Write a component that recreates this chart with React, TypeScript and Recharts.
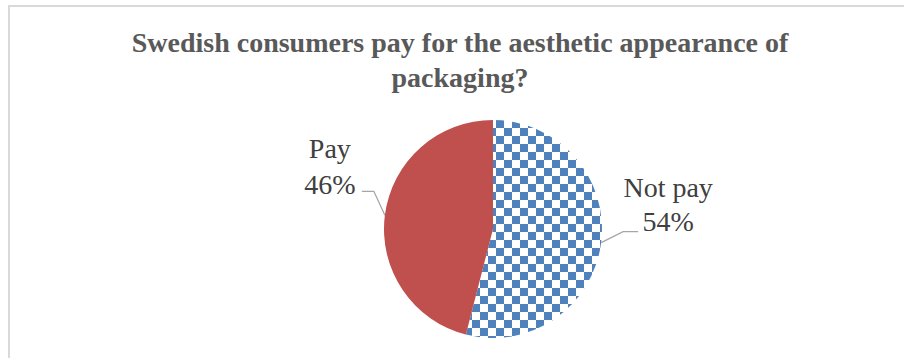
import React from 'react';
import { PieChart, Pie, Cell } from 'recharts';

// values
const categories = ['Not pay', 'Pay'];
const shares = [54, 46];
const titleLines = ['Swedish consumers pay for the aesthetic appearance of', 'packaging?'];

const data = categories.map((name, i) => ({ name, value: shares[i] }));
const fills = ['url(#checker)', '#C0504D'];

const RADIAN = Math.PI / 180;
const SERIF = "'Liberation Serif', 'Times New Roman', serif";

const renderLabel = (props: any) => {
  const { cx, cy, midAngle, outerRadius, name, value } = props;
  const ex = cx + outerRadius * Math.cos(-midAngle * RADIAN);
  const ey = cy + outerRadius * Math.sin(-midAngle * RADIAN);
  const right = ex > cx;
  let pts: string, tx: number, y1: number, y2: number;
  if (right) {
    pts = `${ex},${ey} ${ex + 22},${ey - 11} ${ex + 37},${ey - 11}`;
    tx = ex + 67;
    y1 = ey - 46;
    y2 = ey - 12;
  } else {
    pts = `${ex},${ey} ${ex - 11},${ey - 24} ${ex - 23},${ey - 24}`;
    tx = ex - 55;
    y1 = ey - 57;
    y2 = ey - 21;
  }
  return (
    <g>
      <polyline points={pts} fill="none" stroke="#A6A6A6" strokeWidth={1.3} />
      <text x={tx} y={y1} textAnchor="middle" fill="#404040" fontSize={28} fontFamily={SERIF}>
        {name}
      </text>
      <text x={tx} y={y2} textAnchor="middle" fill="#404040" fontSize={28} fontFamily={SERIF}>
        {value}%
      </text>
    </g>
  );
};

export default function App() {
  return (
    <div style={{ position: 'absolute', left: 0, top: 0, width: 904, height: 358, overflow: 'hidden', background: '#fff' }}>
      <div style={{ position: 'absolute', left: 8, top: 5, width: 1000, height: 500, border: '2px solid #D9D9D9' }} />
      <svg width={0} height={0} style={{ position: 'absolute' }}>
        <defs>
          <pattern id="checker" patternUnits="userSpaceOnUse" width={16} height={16}>
            <rect x={0} y={0} width={16} height={16} fill="#fff" />
            <rect x={0} y={8} width={8} height={8} fill="#4F81BD" />
            <rect x={8} y={0} width={8} height={8} fill="#4F81BD" />
          </pattern>
        </defs>
      </svg>
      <svg width={904} height={110} style={{ position: 'absolute', left: 0, top: 0 }}>
        {titleLines.map((t, i) => (
          <text key={i} x={460} y={52 + i * 35} textAnchor="middle" fill="#595959" fontSize={28} fontWeight="bold"
            fontFamily={SERIF}>
            {t}
          </text>
        ))}
      </svg>
      <div style={{ position: 'absolute', left: 0, top: 0 }}>
        <PieChart width={904} height={358} margin={{ top: 0, right: 0, bottom: 0, left: 0 }}>
          <Pie
            data={data}
            dataKey="value"
            nameKey="name"
            cx={493}
            cy={229}
            outerRadius={109}
            startAngle={90}
            endAngle={-270}
            stroke="none"
            label={renderLabel}
            labelLine={false}
            isAnimationActive={false}
          >
            {data.map((d, i) => (
              <Cell key={d.name} fill={fills[i]} />
            ))}
          </Pie>
        </PieChart>
      </div>
    </div>
  );
}
